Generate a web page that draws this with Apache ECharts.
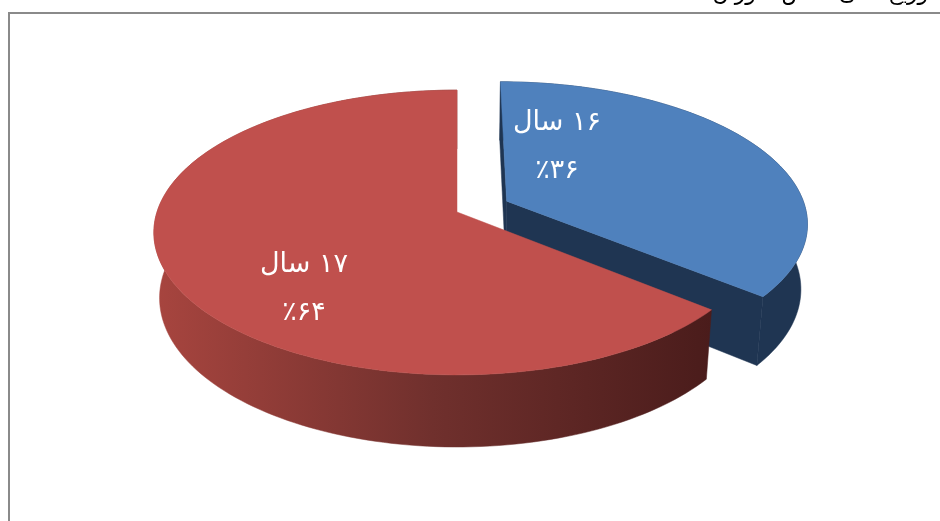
<!DOCTYPE html>
<html>
<head>
<meta charset="utf-8">
<script src="https://cdn.jsdelivr.net/npm/echarts@6/dist/echarts.min.js"></script>
<style>
html, body { margin: 0; padding: 0; background: #fff; }
#chart { width: 940px; height: 521px; }
</style>
</head>
<body>
<div id="chart"></div>
<script>
// data
var categories = ['۱۶ سال', '۱۷ سال'];
var values = [36, 64];
var titleText = 'توزیع سنی دانش آموزان';

// looks
var topColors = ['#4f81bd', '#c0504d'];
var sideColors = ['#1f3552', null];
var explode = [0.185, 0];
var labelPos = [[557, 147], [304, 289]];

// fake 3d camera
var view = {
    cx: 457, cy: 212, f: 1845, dist: 6.15,
    tilt: 27.7 * Math.PI / 180, depth: 0.249
};

function toFa(n) {
    return String(n).replace(/\d/g, function(d) { return '۰۱۲۳۴۵۶۷۸۹'[d]; });
}

// keep right-to-left order on the canvas
function rtl(s) {
    return '\u202B' + s + '\u202C';
}

function project(u, v, h) {
    var s = Math.sin(view.tilt), c = Math.cos(view.tilt);
    var yc = v * s + h * c;
    var zc = view.dist + v * c - h * s;
    return [view.cx + view.f * u / zc, view.cy - view.f * yc / zc];
}

var total = values.reduce(function(a, b) { return a + b; }, 0);

function sliceAngles(i) {
    var before = 0;
    for (var k = 0; k < i; k++) before += values[k];
    return [before / total * Math.PI * 2, (before + values[i]) / total * Math.PI * 2];
}

function renderSlice(params, api) {
    var i = params.dataIndex;
    var a = sliceAngles(i);
    var a0 = a[0], a1 = a[1];
    var mid = (a0 + a1) / 2;
    var ou = explode[i] * Math.sin(mid);
    var ov = explode[i] * Math.cos(mid);
    var H = view.depth;
    var steps = Math.max(8, Math.ceil((a1 - a0) / (Math.PI / 120)));
    var topArc = [], botArc = [];
    for (var k = 0; k <= steps; k++) {
        var t = a0 + (a1 - a0) * k / steps;
        topArc.push(project(ou + Math.sin(t), ov + Math.cos(t), 0));
        botArc.push(project(ou + Math.sin(t), ov + Math.cos(t), -H));
    }
    var centerTop = project(ou, ov, 0);
    var centerBot = project(ou, ov, -H);

    var sideFill = sideColors[i];
    if (!sideFill) {
        sideFill = new echarts.graphic.LinearGradient(152, 0, 712, 0, [
            { offset: 0, color: '#a8453f' },
            { offset: 0.5, color: '#70302d' },
            { offset: 1, color: '#4a1c1b' }
        ], true);
    }

    var children = [];
    // outer wall
    children.push({
        type: 'polygon',
        shape: { points: topArc.concat(botArc.slice().reverse()) },
        style: { fill: sideFill, stroke: sideFill, lineWidth: 0.5 }
    });
    // cut faces, only those facing the camera
    var s = Math.sin(view.tilt), c = Math.cos(view.tilt);
    var cam = [0, -view.dist * c, view.dist * s];
    [[a0, -Math.PI / 2], [a1, Math.PI / 2]].forEach(function(f) {
        var ang = f[0];
        var nu = Math.sin(ang + f[1]), nv = Math.cos(ang + f[1]);
        var pu = ou + 0.5 * Math.sin(ang), pv = ov + 0.5 * Math.cos(ang);
        var dot = nu * (cam[0] - pu) + nv * (cam[1] - pv);
        if (dot > 0.01) {
            children.push({
                type: 'polygon',
                shape: { points: [centerTop,
                    project(ou + Math.sin(ang), ov + Math.cos(ang), 0),
                    project(ou + Math.sin(ang), ov + Math.cos(ang), -H),
                    centerBot] },
                style: { fill: sideColors[i] || '#5a2221', stroke: sideColors[i] || '#5a2221', lineWidth: 0.5 }
            });
        }
    });
    // top face
    children.push({
        type: 'polygon',
        shape: { points: [centerTop].concat(topArc) },
        style: { fill: topColors[i], stroke: topColors[i], lineWidth: 0.5 }
    });
    // label
    var pct = Math.round(values[i] / total * 100);
    children.push({
        type: 'text',
        style: {
            x: labelPos[i][0], y: labelPos[i][1],
            text: rtl(categories[i]) + '\n' + '٪' + toFa(pct),
            fill: '#fff',
            font: '27px "DejaVu Sans"',
            lineHeight: 48,
            align: 'center',
            verticalAlign: 'middle'
        }
    });
    return { type: 'group', children: children };
}

var myChart = echarts.init(document.getElementById('chart'));
var option = {
    animation: false,
    graphic: [
        {
            type: 'rect',
            shape: { x: 9, y: 13, width: 1000, height: 600 },
            style: { fill: 'none', stroke: '#8a8a8a', lineWidth: 2 }
        },
        {
            type: 'text',
            style: {
                x: 935, y: 5,
                text: rtl(titleText),
                font: '22px "DejaVu Sans"',
                fill: '#000',
                align: 'right',
                verticalAlign: 'bottom'
            }
        }
    ],
    series: [
        {
            type: 'custom',
            coordinateSystem: 'none',
            silent: true,
            renderItem: renderSlice,
            data: values
        }
    ]
};
option && myChart.setOption(option);
</script>
</body>
</html>
